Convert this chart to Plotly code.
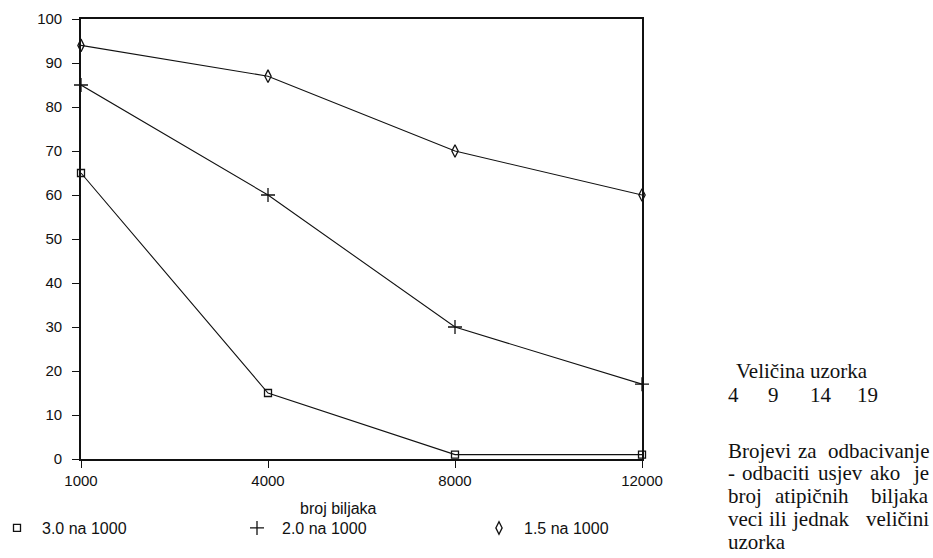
import plotly.graph_objects as go

categories = ["1000", "4000", "8000", "12000"]
s30 = [65, 15, 1, 1]
s20 = [85, 60, 30, 17]
s15 = [94, 87, 70, 60]
names = ["3.0 na 1000", "2.0 na 1000", "1.5 na 1000"]
y_ticks = [0, 10, 20, 30, 40, 50, 60, 70, 80, 90, 100]
x_title = "broj biljaka"
side_title = "Veličina uzorka"
sample_sizes = ["4", "9", "14", "19"]
note_lines = [
    ["Brojevi", "za", "odbacivanje"],
    ["-", "odbaciti", "usjev", "ako", "je"],
    ["broj", "atipičnih", "biljaka"],
    ["veci", "ili", "jednak", "veličini"],
    ["uzorka"],
]

W, H = 933, 558
L, R, T, B = 81, 642, 19, 459  # plot area in screen pixels


def px(x):
    return (x - L) / (R - L)


def py(y):
    return (B - y) / (B - T)


symbols = ["square-open", "cross-thin-open", "diamond-tall-open"]
sizes = [7, 10, 9]
legend_ids = ["legend", "legend2", "legend3"]
fig = go.Figure()
for vals, nm, sym, sz, lg in zip([s30, s20, s15], names, symbols, sizes, legend_ids):
    fig.add_trace(go.Scatter(
        x=categories, y=vals, mode="lines+markers", name=nm, showlegend=False,
        line=dict(color="#111", width=1.1),
        marker=dict(symbol=sym, size=sz, color="#111", line=dict(width=1.3, color="#111")),
        cliponaxis=False))
    fig.add_trace(go.Scatter(
        x=[None], y=[None], mode="markers", name=nm, showlegend=True, legend=lg,
        marker=dict(symbol=sym, size=sz, color="#111", line=dict(width=1.3, color="#111"))))

sans = "Liberation Sans, Arial, sans-serif"
serif = "Liberation Serif, Times New Roman, serif"
SF = 21

leg_common = dict(orientation="h", yanchor="middle", y=py(528), xanchor="left",
                  font=dict(family=sans, size=16, color="#111"),
                  bgcolor="rgba(0,0,0,0)", itemwidth=40, borderwidth=0)

annotations = [
    dict(text=x_title, xref="paper", yref="paper", x=px(338), y=py(509), xanchor="center",
         yanchor="middle", showarrow=False, font=dict(family=sans, size=16, color="#111")),
    dict(text=side_title, xref="paper", yref="paper", x=px(734), y=py(378 - 7), xanchor="left",
         yanchor="middle", showarrow=False, font=dict(family=serif, size=SF, color="#111")),
]
for s, xp in zip(sample_sizes, [726, 766, 808, 855]):
    annotations.append(dict(text=s, xref="paper", yref="paper", x=px(xp), y=py(402 - 7),
                            xanchor="left", yanchor="middle", showarrow=False,
                            font=dict(family=serif, size=SF, color="#111")))

word_x = [
    [726, 796, None],
    [726, 740, 816, 868, None],
    [726, 773, None],
    [726, 767, 790, None],
    [726],
]
baselines = [458, 480, 503, 526, 549]
for words, xs, bl in zip(note_lines, word_x, baselines):
    for w, xp in zip(words, xs):
        if xp is None:
            annotations.append(dict(text=w, xref="paper", yref="paper", x=px(931), y=py(bl - 7),
                                    xanchor="right", yanchor="middle", showarrow=False,
                                    font=dict(family=serif, size=SF, color="#111")))
        else:
            annotations.append(dict(text=w, xref="paper", yref="paper", x=px(xp), y=py(bl - 7),
                                    xanchor="left", yanchor="middle", showarrow=False,
                                    font=dict(family=serif, size=SF, color="#111")))

fig.update_layout(
    width=W, height=H,
    margin=dict(l=L, r=W - R, t=T, b=H - B, autoexpand=False),
    paper_bgcolor="white", plot_bgcolor="white",
    font=dict(family=sans, size=15, color="#111"),
    showlegend=True,
    xaxis=dict(type="category", range=[0, 3], showline=True, linecolor="#111", linewidth=1.6,
               mirror=True, ticks="outside", ticklen=7, tickcolor="#111", tickwidth=1.2,
               showgrid=False, zeroline=False, tickfont=dict(size=15)),
    yaxis=dict(range=[0, 100], tickvals=y_ticks, showline=True, linecolor="#111", linewidth=1.6,
               mirror=True, ticks="outside", ticklen=7, tickcolor="#111", tickwidth=1.2,
               showgrid=False, zeroline=False, tickfont=dict(size=15), ticklabelstandoff=7),
    legend=dict(x=px(-8), **leg_common),
    legend2=dict(x=px(232), **leg_common),
    legend3=dict(x=px(474), **leg_common),
    annotations=annotations,
)
fig.write_html(
    "out.html",
    config={"displayModeBar": False},
    post_script="document.body.style.margin='0';document.documentElement.style.overflow='hidden';",
)
